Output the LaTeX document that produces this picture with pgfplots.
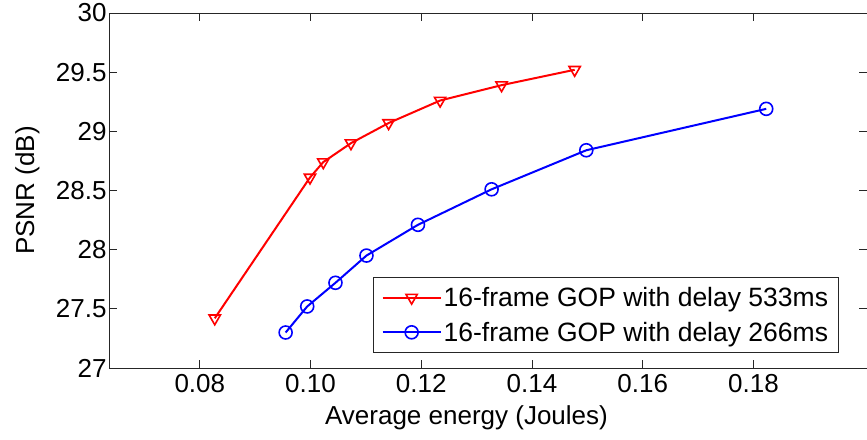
\documentclass[border=0pt]{standalone}
\usepackage{fontspec}
\setmainfont{Liberation Sans}
\usepackage{pgfplots}
\pgfplotsset{compat=1.18}
\begin{document}
\begin{tikzpicture}
\begin{axis}[
  scale only axis,
  width=758pt, height=355pt,
  xmin=0.0636, xmax=0.2005,
  ymin=27, ymax=30,
  xtick={0.08,0.10,0.12,0.14,0.16,0.18},
  ytick={27,27.5,28,28.5,29,29.5,30},
  xticklabel style={/pgf/number format/fixed,/pgf/number format/fixed zerofill,/pgf/number format/precision=2, yshift=-3pt},
  yticklabel style={/pgf/number format/fixed,/pgf/number format/precision=1, xshift=1pt},
  scaled x ticks=false,
  /pgf/number format/assume math mode=true,
  tick align=inside,
  major tick length=8pt,
  tick style={black!85, line width=0.8pt},
  axis line style={black!85, line width=0.8pt},
  ticklabel style={font=\fontsize{26}{30}\selectfont},
  label style={font=\fontsize{26}{30}\selectfont},
  xlabel={Average energy (Joules)},
  ylabel={PSNR (dB)},
  xlabel style={at={(rel axis cs:0.4716,-0.1408)}, anchor=center},
  ylabel style={at={(rel axis cs:-0.1075,0.5)}, anchor=center},
  legend style={at={(rel axis cs:0.963,0.042)}, anchor=south east,
    draw=black!85, line width=0.8pt, fill=white,
    font=\fontsize{26.5}{30}\selectfont,
    inner xsep=8.5pt, inner ysep=8pt, row sep=10pt,
    nodes={inner sep=2pt}},
  legend cell align=left,
  legend image code/.code={%
    \draw[#1, mark=none, line width=2pt] (0pt,0pt) -- (58pt,0pt);
    \draw[#1, only marks] plot coordinates {(29pt,0pt)};
  },
]
\coordinate (sw) at (rel axis cs:0,0);
\coordinate (ne) at (rel axis cs:1,1);
\addplot[red, line width=2pt, mark=triangle, mark size=6.5pt,
  mark options={rotate=180, solid, line width=1.6pt, fill=none}] coordinates {
  (0.0827,27.42) (0.0999,28.61) (0.1023,28.74) (0.1073,28.90)
  (0.1141,29.07) (0.1234,29.26) (0.1345,29.39) (0.1477,29.52)};
\addlegendentry{16-frame GOP with delay 533ms}
\addplot[blue, line width=2pt, mark=o, mark size=6.5pt,
  mark options={solid, line width=1.6pt}] coordinates {
  (0.0955,27.30) (0.0994,27.52) (0.1045,27.72) (0.1101,27.95)
  (0.1194,28.21) (0.1327,28.51) (0.1498,28.84) (0.1823,29.19)};
\addlegendentry{16-frame GOP with delay 266ms}
\end{axis}
\pgfresetboundingbox
\path ([shift={(-109pt,-72pt)}]sw) rectangle ([shift={(0pt,13pt)}]ne);
\end{tikzpicture}
\end{document}
